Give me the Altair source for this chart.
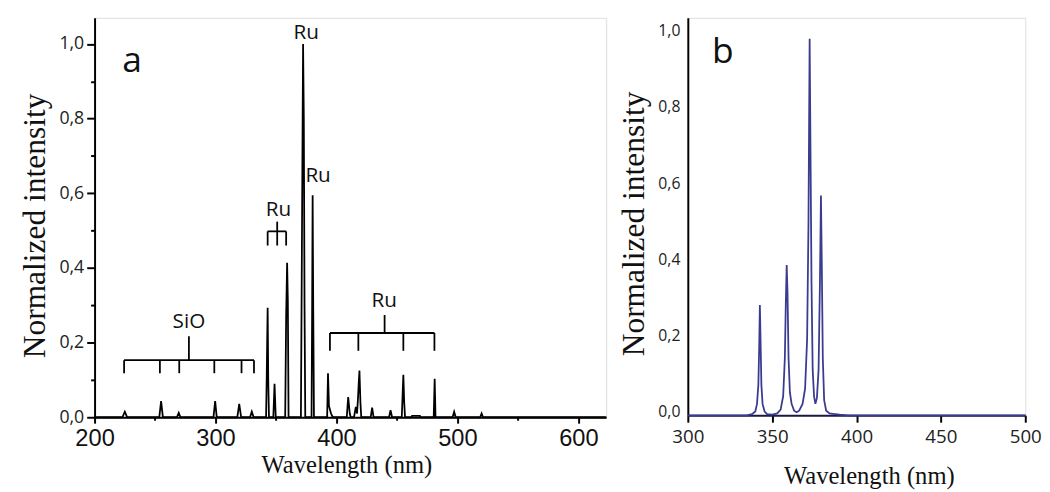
import altair as alt
import pandas as pd

# ---------------- Panel a : emission spectrum (nm, normalized intensity) -------------
a_wl = [200, 223, 225, 227, 253.5, 255, 256.5, 268, 269.6, 271,
        298.3, 299.7, 301, 318, 319.6, 321.2, 328.5, 330, 331.5,
        341.8, 342.3, 342.7, 343.1, 343.6, 344.2,
        347.8, 348.8, 349.8,
        357.6, 357.9, 358.4, 359.2, 359.8, 360.4,
        370.6, 371.2, 371.8, 372.4, 373.0, 373.6, 374.2,
        379.4, 379.9, 380.3, 380.8, 381.4,
        392.3, 393.0, 393.8, 395.5, 397,
        408.5, 409.7, 411.0, 411.8, 414.5, 416.0, 417.0, 417.8, 418.4, 419.0, 419.8, 420.5,
        428.3, 429.5, 430.7, 443.5, 444.7, 446,
        454.0, 454.7, 455.3, 456.0, 456.7,
        462.0, 462.5, 469.0, 469.5,
        480.4, 481.2, 481.9, 496, 497.3, 498.6, 518.8, 520, 521.2, 623]
a_int = [0, 0, 0.015, 0, 0, 0.043, 0, 0, 0.012, 0,
         0, 0.043, 0, 0, 0.036, 0, 0, 0.015, 0,
         0, 0.10, 0.20, 0.293, 0.10, 0,
         0, 0.09, 0,
         0, 0.10, 0.27, 0.414, 0.31, 0,
         0, 0.33, 0.665, 1.0, 0.80, 0.30, 0,
         0, 0.30, 0.595, 0.29, 0,
         0, 0.118, 0.03, 0.01, 0,
         0, 0.054, 0.01, 0, 0, 0.028, 0.01, 0.05, 0.09, 0.125, 0.04, 0,
         0, 0.026, 0, 0, 0.019, 0,
         0, 0.06, 0.114, 0.04, 0,
         0, 0.004, 0.004, 0,
         0, 0.103, 0, 0, 0.015, 0, 0, 0.01, 0, 0]

# brackets of panel a
sio_ticks = [224.4, 254, 270, 299, 321.5, 331.8]
sio_bar, sio_low, sio_stem_x, sio_stem_top = 0.153, 0.118, 278, 0.217
ru_big_ticks = [394.6, 418.1, 455.3, 481]
ru_big_bar, ru_big_low, ru_big_stem_x, ru_big_stem_top = 0.2257, 0.178, 439.8, 0.274
ru_small_ticks = [343.1, 351, 358.4]
ru_small_bar, ru_small_low, ru_small_stem_x, ru_small_stem_top = 0.498, 0.46, 351, 0.524

lab_text = ["SiO", "Ru", "Ru", "Ru", "Ru"]
lab_x = [278, 439.5, 352, 375, 384.8]
lab_y = [0.256, 0.31, 0.556, 1.029, 0.645]

# ---------------- Panel b : smoothed spectrum -------------
b_wl = [300, 335, 338, 340, 341, 341.8, 342.3, 342.7, 343.1, 343.6, 344.3, 345.5, 347,
        350, 353, 355, 356.5, 357.5, 358.1, 358.6, 359.1, 359.7, 360.5, 361.5, 363,
        364.5, 366, 368, 369.5, 370.7, 371.5, 372.2, 372.7, 373.3, 374, 374.8,
        375.6, 376.5, 377.5, 378.3, 378.9, 379.4, 380, 380.8, 382, 384, 386, 390, 395, 500]
b_int = [0, 0, 0.003, 0.01, 0.03, 0.08, 0.18, 0.29, 0.20, 0.08, 0.03, 0.01, 0.003,
         0.002, 0.005, 0.015, 0.05, 0.15, 0.30, 0.395, 0.32, 0.15, 0.06, 0.03, 0.012,
         0.008, 0.012, 0.03, 0.07, 0.20, 0.50, 0.99, 0.70, 0.35, 0.12, 0.05,
         0.03, 0.045, 0.12, 0.35, 0.578, 0.40, 0.15, 0.04, 0.012, 0.005, 0.004, 0.002, 0, 0]

# ---------------- build tables -------------
df_a = pd.DataFrame({"wl": a_wl, "v": a_int})
df_b = pd.DataFrame({"wl": b_wl, "v": b_int})

rows = []
def bracket(ticks, bar, low, sx, stop):
    rows.append({"wl": ticks[0], "wl2": ticks[-1], "v": bar, "v2": bar})
    for t in ticks:
        rows.append({"wl": t, "wl2": t, "v": low, "v2": bar})
    rows.append({"wl": sx, "wl2": sx, "v": bar, "v2": stop})
bracket(sio_ticks, sio_bar, sio_low, sio_stem_x, sio_stem_top)
bracket(ru_big_ticks, ru_big_bar, ru_big_low, ru_big_stem_x, ru_big_stem_top)
bracket(ru_small_ticks, ru_small_bar, ru_small_low, ru_small_stem_x, ru_small_stem_top)
df_br = pd.DataFrame(rows)
df_lab = pd.DataFrame({"t": lab_text, "wl": lab_x, "v": lab_y})

SERIF = "'Liberation Serif', 'Times New Roman', 'DejaVu Serif', serif"
comma = "replace(format(datum.value, '.1f'), '.', ',')"

# ---------------- panel a -------------
xs_a = alt.Scale(domain=[200, 623], nice=False, zero=False)
ys_a = alt.Scale(domain=[0, 1.07], nice=False, zero=False)
ax_xa = alt.Axis(values=[200, 300, 400, 500, 600], title="Wavelength (nm)", grid=False,
                 labelFlush=False, tickSize=6, tickWidth=2, tickColor="black",
                 domainColor="black", domainWidth=2,
                 labelFont="Liberation Sans", labelFontSize=24, labelColor="#111", labelPadding=4,
                 titleFont=SERIF, titleFontSize=25, titleFontWeight="normal", titleColor="#111",
                 titlePadding=2, titleX=256)
ax_ya = alt.Axis(values=[0, 0.2, 0.4, 0.6, 0.8, 1.0], labelExpr=comma, title="Normalized intensity",
                 grid=False, labelFlush=False, tickSize=8, tickWidth=2, tickColor="black",
                 domainColor="black",
                 domainWidth=2, labelFont="Open Sans", labelFontSize=18, labelColor="#222",
                 labelPadding=3, titleFont=SERIF, titleFontSize=32, titleFontWeight="normal",
                 titleColor="#111", titlePadding=8, titleY=211)
X_a = alt.X("wl:Q", scale=xs_a, axis=ax_xa)
Y_a = alt.Y("v:Q", scale=ys_a, axis=ax_ya)

line_a = alt.Chart(df_a).mark_line(color="black", strokeWidth=1.8).encode(x=X_a, y=Y_a)
br_a = alt.Chart(df_br).mark_rule(color="black", strokeWidth=1.8).encode(
    x=X_a, x2="wl2:Q", y=Y_a, y2="v2:Q")
txt_a = alt.Chart(df_lab).mark_text(font="Open Sans", fontSize=21, color="#111",
                                    baseline="middle").encode(x=X_a, y=Y_a, text="t:N")
tag_a = alt.Chart(pd.DataFrame({"t": ["a"], "wl": [231], "v": [0.955]})).mark_text(
    font="Open Sans", fontSize=36, color="#111", baseline="middle").encode(x=X_a, y=Y_a, text="t:N")

main_a = alt.layer(line_a, br_a, txt_a, tag_a)

minor_df = pd.DataFrame({"wl": [250], "v": [0.1]})
minor_a = alt.Chart(minor_df).mark_point(opacity=0).encode(
    x=alt.X("wl:Q", scale=xs_a, axis=alt.Axis(orient="bottom", values=[250, 350, 450, 550],
            labels=False, title=None, domain=False, grid=False, tickSize=3, tickWidth=2,
            tickColor="black")),
    y=alt.Y("v:Q", scale=ys_a, axis=alt.Axis(orient="left", values=[0.1, 0.3, 0.5, 0.7, 0.9],
            labels=False, title=None, domain=False, grid=False, tickSize=4, tickWidth=2,
            tickColor="black")))

panel_a = alt.layer(main_a, minor_a).resolve_axis(x="independent", y="independent").properties(
    width=520, height=406)

# ---------------- panel b -------------
xs_b = alt.Scale(domain=[300, 500], nice=False, zero=False)
ys_b = alt.Scale(domain=[0, 1.045], nice=False, zero=False)
X_b = alt.X("wl:Q", scale=xs_b, axis=alt.Axis(values=[300, 350, 400, 450, 500],
            title="Wavelength (nm)", grid=False, labelFlush=False, tickSize=7, tickWidth=2,
            tickColor="black",
            domainColor="#1a1a40", domainWidth=2, labelFont="Open Sans", labelFontSize=19,
            labelColor="#222", labelPadding=6, titleFont=SERIF, titleFontSize=25,
            titleFontWeight="normal", titleColor="#111", titlePadding=17, titleX=184))
Y_b = alt.Y("v:Q", scale=ys_b, axis=alt.Axis(values=[0, 0.2, 0.4, 0.6, 0.8, 1.0], labelExpr=comma,
            title="Normalized intensity", grid=False, labelFlush=False, ticks=False,
            domainColor="black",
            domainWidth=2, labelFont="Open Sans", labelFontSize=16, labelColor="#222",
            labelPadding=8, labelOffset=-4, titleFont=SERIF, titleFontSize=32,
            titleFontWeight="normal", titleColor="#111", titlePadding=8, titleY=209))
line_b = alt.Chart(df_b).mark_line(color="#3b3b8f", strokeWidth=1.8).encode(x=X_b, y=Y_b)
tag_b = alt.Chart(pd.DataFrame({"t": ["b"], "wl": [320.8], "v": [0.955]})).mark_text(
    font="Open Sans", fontSize=36, color="#111", baseline="middle").encode(x=X_b, y=Y_b, text="t:N")
panel_b = alt.layer(line_b, tag_b).properties(width=343, height=404)

chart = alt.hconcat(panel_a, panel_b, spacing=6).properties(
    padding={"left": 10, "top": 5, "right": 0, "bottom": 0}
).configure_view(stroke="black", strokeWidth=2).configure(background="white")

chart.save("out.html", embed_options={"renderer": "svg", "actions": False})
